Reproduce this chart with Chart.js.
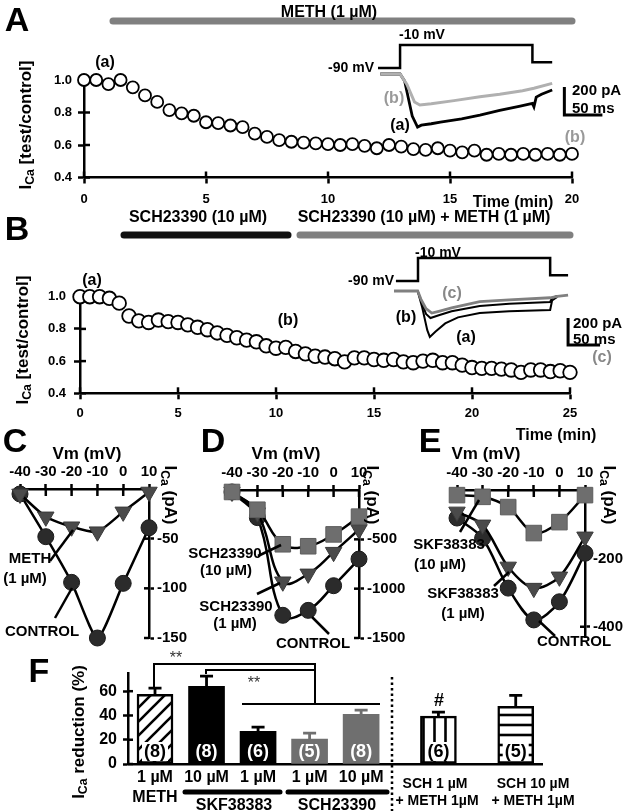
<!DOCTYPE html>
<html>
<head>
<meta charset="utf-8">
<script src="https://cdn.jsdelivr.net/npm/chart.js@4.4.0/dist/chart.umd.min.js"></script>
<style>
  html, body { margin: 0; padding: 0; background: #fff; }
  #fig { position: relative; width: 627px; height: 811px; overflow: hidden; background: #fff;
         font-family: "Liberation Sans", Arial, sans-serif; font-weight: bold; color: #000; }
  #fig canvas { position: absolute; }
  #fig svg { position: absolute; left: 0; top: 0; }
  .t { position: absolute; white-space: nowrap; line-height: 1; }
  .t sub { font-size: 0.72em; vertical-align: -0.3em; line-height: 0; }
</style>
</head>
<body>
<div id="fig"></div>
<script>
// ---- time courses (A, B), one sample every 0.5 min ----
const sampleStepMin = 0.5;
const ratioA = [1.0, 1.0, 0.975, 1.0, 0.955, 0.905, 0.865, 0.815, 0.795, 0.78,
                0.74, 0.735, 0.72, 0.71, 0.67, 0.65, 0.63, 0.62, 0.615, 0.61,
                0.605, 0.60, 0.605, 0.595, 0.58, 0.60, 0.59, 0.575, 0.57, 0.58,
                0.565, 0.555, 0.565, 0.54, 0.545, 0.54, 0.545, 0.54, 0.545, 0.54, 0.545];
const ratioB = [1.0, 1.0, 1.0, 0.99, 0.96, 0.88, 0.85, 0.84, 0.855, 0.845,
                0.84, 0.825, 0.81, 0.795, 0.775, 0.76, 0.745, 0.73, 0.72, 0.695,
                0.68, 0.685, 0.66, 0.645, 0.63, 0.625, 0.615, 0.595, 0.62, 0.62,
                0.61, 0.605, 0.61, 0.595, 0.59, 0.60, 0.605, 0.59, 0.59, 0.575,
                0.56, 0.555, 0.555, 0.55, 0.545, 0.53, 0.545, 0.545, 0.535, 0.54, 0.53];
const ratioTicks = [0.4, 0.6, 0.8, 1.0];
const timeTicksA = [0, 5, 10, 15, 20];
const timeTicksB = [0, 5, 10, 15, 20, 25];

// ---- inset current traces (ms, pA) and voltage protocol (mV) ----
const protoMv = [-90, -90, -10, -10, -70, -70];
const protoTimeA = [0, 29, 29, 203, 203, 229];
const traceTimeA_a = [3, 29, 35, 45, 52, 57, 70, 82, 110, 134, 160, 187, 203, 205, 208, 215, 229];
const traceA_a = [0, 0, -50, -300, -379, -365, -355, -343, -320, -293, -260, -229, -210, -235, -165, -145, -114];
const traceTimeA_b = [3, 29, 38, 48, 55, 70, 100, 134, 160, 190, 205, 229];
const traceA_b = [0, 0, -75, -200, -221, -212, -190, -162, -145, -120, -102, -67];

const protoTimeB = [3, 37.5, 37.5, 244, 244, 272];
const traceTimeB_a = [0, 37, 44, 52, 56, 65, 80, 100, 134, 180, 244, 247, 255];
const traceB_a = [0, 0, -120, -290, -340, -300, -240, -195, -163, -150, -141, -70, -44];
const traceTimeB_b = [0, 37, 43, 50, 57, 70, 90, 134, 180, 244, 247, 255];
const traceB_b = [0, 0, -80, -170, -200, -180, -150, -111, -95, -81, -50, -37];
const traceTimeB_c = [0, 37, 42, 50, 59, 70, 90, 134, 180, 244, 255, 272];
const traceB_c = [0, 0, -60, -130, -163, -150, -125, -79, -65, -50, -40, -30];
const scaleBarPA = 200, scaleBarMS = 50;

// ---- I-V curves (C, D, E) ----
const ivVm = [-40, -30, -20, -10, 0, 10];
const ivC_control = [-5, -48, -94, -150, -95, -39];
const ivC_meth = [-5, -28, -38, -43, -23, -3];
const ivD_control = [-20, -280, -1270, -1220, -970, -700];
const ivD_sch1 = [-20, -230, -930, -850, -630, -400];
const ivD_sch10 = [-20, -200, -550, -570, -450, -270];
const ivE_control = [-82, -141, -287, -380, -327, -185];
const ivE_skf1 = [-64, -102, -225, -287, -254, -137];
const ivE_skf10 = [-15, -20, -50, -126, -94, -15];
const ivTicksC = [-50, -100, -150];
const ivTicksD = [-500, -1000, -1500];
const ivTicksE = [-200, -400];

// ---- F bar chart ----
const fBarX = [1, 2, 3, 4, 5, 6.5, 8];
const fDoseLabels = [['1 µM', 'METH'], '10 µM', '1 µM', '1 µM', '10 µM',
                     ['SCH 1 µM', '+ METH 1µM'], ['SCH 10 µM', '+ METH 1µM']];
const fMean = [57.5, 64, 27, 20.5, 41, 39.5, 47.5];
const fErr = [5, 8.5, 3.4, 5, 3.4, 3.3, 9];
const fN = ['(8)', '(8)', '(6)', '(5)', '(8)', '(6)', '(5)'];
const fTicks = [0, 20, 40, 60];

Chart.defaults.font.family = '"Liberation Sans", Arial, sans-serif';
Chart.defaults.font.weight = 'bold';
Chart.defaults.color = '#000';

const fig = document.getElementById('fig');

function addCanvas(l, t, w, h) {
  const c = document.createElement('canvas');
  c.width = w; c.height = h;
  c.style.left = l + 'px'; c.style.top = t + 'px';
  c.style.width = w + 'px'; c.style.height = h + 'px';
  fig.appendChild(c);
  return c;
}

// part of each tick mark that crosses into the plot area
const innerTicks = {
  id: 'innerTicks',
  beforeDatasetsDraw(chart, args, opts) {
    const ctx = chart.ctx;
    ctx.save();
    ctx.strokeStyle = '#000';
    ctx.lineWidth = 2.5;
    Object.values(chart.scales).forEach(s => {
      const len = opts[s.id];
      if (!len) return;
      s.ticks.forEach(t => {
        const p = s.getPixelForValue(t.value);
        ctx.beginPath();
        if (s.position === 'bottom') { ctx.moveTo(p, s.top); ctx.lineTo(p, s.top - len); }
        else if (s.position === 'top') { ctx.moveTo(p, s.bottom); ctx.lineTo(p, s.bottom + len); }
        else if (s.position === 'left') { ctx.moveTo(s.right, p); ctx.lineTo(s.right + len, p); }
        else { ctx.moveTo(s.left, p); ctx.lineTo(s.left - len, p); }
        ctx.stroke();
      });
    });
    ctx.restore();
  }
};

function axis(o) {
  return {
    type: 'linear', position: o.pos, min: o.min, max: o.max,
    border: { display: true, color: '#000', width: 2.5 },
    grid: { display: true, drawOnChartArea: false, drawTicks: o.tick > 0, tickLength: o.tick,
            tickWidth: 2.5, tickColor: '#000' },
    ticks: { font: o.font, padding: o.pad, color: '#000', autoSkip: false, maxRotation: 0, minRotation: 0,
             callback: o.fmt || (v => String(v)) },
    afterBuildTicks: s => { s.ticks = o.values.map(v => ({ value: v })); },
    afterFit: s => {
      if (o.pos === 'top' || o.pos === 'bottom') s.height = o.size; else s.width = o.size;
    }
  };
}

const baseOpts = { responsive: false, animation: false, events: [] };

// ---------- time course charts ----------
function timeCourse(canvas, values, pad, xMax, xTicks, xSize, ySize, xPad, yPad, radius) {
  return new Chart(canvas, {
    type: 'line',
    data: { datasets: [{
      data: values.map((v, i) => ({ x: i * sampleStepMin, y: v })),
      showLine: false, pointRadius: radius, pointBorderWidth: 1.8,
      pointBackgroundColor: '#fff', pointBorderColor: '#000', clip: false
    }] },
    options: Object.assign({}, baseOpts, {
      layout: { padding: pad },
      plugins: { legend: { display: false }, tooltip: { enabled: false }, innerTicks: { x: 6, y: 6 } },
      scales: {
        x: axis({ pos: 'bottom', min: 0, max: xMax, values: xTicks, tick: 6, pad: xPad, size: xSize,
                  font: { size: 13 } }),
        y: axis({ pos: 'left', min: 0.4, max: 1.0, values: ratioTicks, tick: 6, pad: yPad, size: ySize,
                  font: { size: 13 }, fmt: v => v.toFixed(1) })
      }
    }),
    plugins: [innerTicks]
  });
}

timeCourse(addCanvas(0, 60, 627, 155), ratioA, { top: 20, left: 0, right: 55, bottom: 0 },
           20, timeTicksA, 37.5, 84, 8, 6, 6);
timeCourse(addCanvas(0, 270, 627, 160), ratioB, { top: 26.7, left: 0, right: 57, bottom: 0 },
           25, timeTicksB, 36.7, 80, 6, 8, 6.8);

// ---------- inset traces ----------
function pts(xs, ys) { return xs.map((x, i) => ({ x: x, y: ys[i] })); }
function inset(box, datasets) {
  const p = 8;
  return new Chart(addCanvas(box.left - p, box.top - p, box.w + 2 * p, box.h + 2 * p), {
    type: 'line',
    data: { datasets: datasets.map(d => Object.assign({
      pointRadius: 0, borderWidth: 2.5, tension: 0, clip: false, fill: false, yAxisID: 'yI'
    }, d)) },
    options: Object.assign({}, baseOpts, {
      layout: { padding: p },
      plugins: { legend: { display: false }, tooltip: { enabled: false } },
      scales: {
        x: { type: 'linear', display: false, min: 0, max: box.xMax },
        yV: { type: 'linear', display: false, min: box.vMin, max: box.vMax },
        yI: { type: 'linear', display: false, min: box.iMin, max: box.iMax }
      }
    })
  });
}
function scaleBar(t, top) {
  return [{ x: t, y: top }, { x: t, y: top - scaleBarPA }, { x: t + scaleBarMS, y: top - scaleBarPA }];
}

inset({ left: 378, top: 30, w: 232, h: 110, xMax: 305, vMin: -340.4, vMax: 42.2, iMin: -471, iMax: 314 }, [
  { data: pts(protoTimeA, protoMv), yAxisID: 'yV', borderColor: '#000' },
  { data: pts(traceTimeA_b, traceA_b), borderColor: '#b0b0b0', borderWidth: 3 },
  { data: pts(traceTimeA_a, traceA_a), borderColor: '#000', borderWidth: 2.8 },
  { data: scaleBar(245, -93), borderColor: '#000', borderWidth: 3 }
]);

inset({ left: 394, top: 245, w: 232, h: 110, xMax: 362.5, vMin: -347.4, vMax: 35.2, iMin: -474, iMax: 341 }, [
  { data: pts(protoTimeB, protoMv), yAxisID: 'yV', borderColor: '#000' },
  { data: pts(traceTimeB_c, traceB_c), borderColor: '#808080', borderWidth: 2.8 },
  { data: pts(traceTimeB_b, traceB_b), borderColor: '#000', borderWidth: 2 },
  { data: pts(traceTimeB_a, traceB_a), borderColor: '#000', borderWidth: 2 },
  { data: scaleBar(272, -200), borderColor: '#000', borderWidth: 3 }
]);

// ---------- I-V charts ----------
const circleStyle = { pointStyle: 'circle', pointRadius: 8, pointBackgroundColor: '#2b2b2b', pointBorderColor: '#1a1a1a' };
const triStyle = { pointStyle: 'triangle', pointRotation: 180, pointRadius: 9.5, pointBackgroundColor: '#4a4a4a', pointBorderColor: '#3a3a3a' };
const sqStyle = { pointStyle: 'rect', pointRadius: 11, pointBackgroundColor: '#6e6e6e', pointBorderColor: '#5e5e5e' };

function ivChart(box, yMin, yTicks, series, tension) {
  return new Chart(addCanvas(box.left, box.top, box.w, box.h), {
    type: 'line',
    data: { datasets: series.map(s => Object.assign({
      data: ivVm.map((v, i) => ({ x: v, y: s.values[i] })),
      borderColor: '#000', borderWidth: 2.5, pointBorderWidth: 1, tension: tension, clip: false, fill: false
    }, s.style)) },
    options: Object.assign({}, baseOpts, {
      layout: { padding: { left: box.padL, right: 0, top: 0, bottom: box.padB } },
      plugins: { legend: { display: false }, tooltip: { enabled: false }, innerTicks: { x: 7, y: 5 } },
      scales: {
        x: axis({ pos: 'top', min: -40, max: 10, values: ivVm, tick: 5, pad: 3, size: box.topH, font: { size: 15 } }),
        y: axis({ pos: 'right', min: yMin, max: 0, values: yTicks, tick: 5, pad: 3, size: box.rightW, font: { size: 15 } })
      }
    }),
    plugins: [innerTicks]
  });
}

ivChart({ left: 0, top: 440, w: 200, h: 210, padL: 20, padB: 12, topH: 49, rightW: 51 }, -150, ivTicksC, [
  { values: ivC_meth, style: triStyle },
  { values: ivC_control, style: circleStyle }
], 0.2);
ivChart({ left: 200, top: 440, w: 217, h: 210, padL: 32, padB: 10, topH: 50, rightW: 58 }, -1500, ivTicksD, [
  { values: ivD_sch10, style: sqStyle },
  { values: ivD_sch1, style: triStyle },
  { values: ivD_control, style: circleStyle }
], 0.4);
ivChart({ left: 417, top: 440, w: 210, h: 210, padL: 40, padB: 13, topH: 50, rightW: 42 }, -430, ivTicksE, [
  { values: ivE_skf10, style: sqStyle },
  { values: ivE_skf1, style: triStyle },
  { values: ivE_control, style: circleStyle }
], 0.3);

// ---------- F ----------
const canvasF = addCanvas(0, 650, 627, 161);
const ctxF = canvasF.getContext('2d');
function pattern(kind) {
  const size = kind === 'diag' ? 14 : (kind === 'vert' ? 11 : 10);
  const c = document.createElement('canvas');
  c.width = c.height = size;
  const g = c.getContext('2d');
  g.fillStyle = '#fff'; g.fillRect(0, 0, size, size);
  g.strokeStyle = '#000'; g.lineWidth = 2.6;
  g.beginPath();
  if (kind === 'diag') {
    g.moveTo(-2, size + 2); g.lineTo(size + 2, -2);
    g.moveTo(-4, 4); g.lineTo(4, -4);
    g.moveTo(size - 4, size + 4); g.lineTo(size + 4, size - 4);
  } else if (kind === 'vert') {
    g.moveTo(size / 2, 0); g.lineTo(size / 2, size);
  } else {
    g.moveTo(0, size / 2); g.lineTo(size, size / 2);
  }
  g.stroke();
  return ctxF.createPattern(c, 'repeat');
}
const fFill = [pattern('diag'), '#000', '#000', '#6f6f6f', '#6f6f6f', pattern('vert'), pattern('horiz')];
const fBorder = [2.5, 0, 0, 0, 0, 2.5, 2.5];
const fErrColor = ['#000', '#000', '#000', '#6f6f6f', '#6f6f6f', '#000', '#000'];
const fTextColor = ['#000', '#fff', '#fff', '#fff', '#fff', '#000', '#000'];
const fPatterned = [true, false, false, false, false, true, true];
const fAxisTicks = 5; // the first five groups get library tick labels; the two combined groups sit off-centre

const barDecor = {
  id: 'barDecor',
  afterDatasetsDraw(chart) {
    const ctx = chart.ctx;
    const yS = chart.scales.y;
    const bars = chart.getDatasetMeta(0).data;
    ctx.save();
    bars.forEach((b, i) => {
      const yTop = yS.getPixelForValue(fMean[i]);
      const yErr = yS.getPixelForValue(fMean[i] + fErr[i]);
      ctx.strokeStyle = fErrColor[i];
      ctx.lineWidth = 2.8;
      ctx.beginPath();
      ctx.moveTo(b.x, yTop); ctx.lineTo(b.x, yErr);
      ctx.moveTo(b.x - 6.5, yErr); ctx.lineTo(b.x + 6.5, yErr);
      ctx.stroke();
      const yLab = yS.getPixelForValue(0) - 12;
      if (fPatterned[i]) {
        ctx.fillStyle = '#fff';
        ctx.fillRect(b.x - 13, yLab - 10, 26, 19);
      }
      ctx.fillStyle = fTextColor[i];
      ctx.font = 'bold 18px "Liberation Sans", Arial, sans-serif';
      ctx.textAlign = 'center';
      ctx.textBaseline = 'middle';
      ctx.fillText(fN[i], b.x, yLab);
    });
    ctx.restore();
  }
};

new Chart(canvasF, {
  type: 'bar',
  data: { datasets: [{
    data: fBarX.map((x, i) => ({ x: x, y: fMean[i] })),
    backgroundColor: fFill, borderColor: '#000', borderWidth: fBorder,
    borderSkipped: false, barThickness: 36
  }] },
  options: Object.assign({}, baseOpts, {
    layout: { padding: { top: 23, left: 0, right: 85, bottom: 0 } },
    plugins: { legend: { display: false }, tooltip: { enabled: false }, innerTicks: { y: 5 } },
    scales: {
      x: Object.assign(axis({ pos: 'bottom', min: 0.476, max: 8.51, values: fBarX.slice(0, fAxisTicks),
                              tick: 0, pad: 4.4, size: 47, font: { size: 16, lineHeight: 1.2 },
                              fmt: (v, i) => fDoseLabels[i] }), { offset: false }),
      y: axis({ pos: 'left', min: 0, max: 75, values: fTicks, tick: 5, pad: 6, size: 128, font: { size: 16 } })
    }
  }),
  plugins: [innerTicks, barDecor]
});

// ---------- drug bars, pointer lines, brackets ----------
const NS = 'http://www.w3.org/2000/svg';
const svg = document.createElementNS(NS, 'svg');
svg.setAttribute('width', 627); svg.setAttribute('height', 811);
svg.innerHTML = `
  <g stroke-linecap="round">
    <line x1="113" y1="21" x2="572" y2="21" stroke="#808080" stroke-width="7"/>
    <line x1="124" y1="235" x2="288" y2="235" stroke="#111" stroke-width="7"/>
    <line x1="300" y1="235" x2="570" y2="235" stroke="#808080" stroke-width="7"/>
    <line x1="185" y1="792" x2="280" y2="792" stroke="#000" stroke-width="5"/>
    <line x1="288" y1="792" x2="387" y2="792" stroke="#000" stroke-width="5"/>
  </g>
  <g stroke="#000" stroke-width="2.5" fill="none">
    <line x1="50" y1="561" x2="73" y2="530"/>
    <line x1="55" y1="618" x2="72" y2="588"/>
    <line x1="258" y1="556" x2="281" y2="545"/>
    <line x1="257" y1="594" x2="280" y2="583"/>
    <line x1="329" y1="634" x2="312" y2="617"/>
    <line x1="460" y1="532" x2="479" y2="500"/>
    <line x1="494" y1="586" x2="509" y2="572"/>
    <line x1="555" y1="636" x2="539" y2="621"/>
  </g>
  <g stroke="#000" stroke-width="2" fill="none">
    <polyline points="154,688 154,664 315,664 315,704"/>
    <polyline points="206,674 206,670 315,670"/>
    <line x1="242" y1="704" x2="380" y2="704"/>
  </g>
  <line x1="392" y1="677" x2="392" y2="811" stroke="#000" stroke-width="2.5" stroke-dasharray="2.5 3"/>
`;
fig.appendChild(svg);

// ---------- text ----------
const ica = 'I<sub>Ca</sub>';
const gray = { color: '#999' };
const texts = [
  ['A', 17, 19, 34], ['METH (1 µM)', 329, 12, 16], ['(a)', 105, 62, 16],
  [ica + ' [test/control]', 25, 125, 17, { rot: -90 }], ['Time (min)', 513, 202, 16],
  ['-90 mV', 374, 67, 14, { anchor: 'right' }], ['-10 mV', 422, 34, 14],
  ['(b)', 394, 98, 16, gray], ['(a)', 400, 125, 16],
  ['200 pA', 572, 89, 15, { anchor: 'left' }], ['50 ms', 572, 107, 15, { anchor: 'left' }],
  ['(b)', 575, 137, 16, gray],

  ['B', 17, 228, 34], ['SCH23390 (10 µM)', 198, 217, 16], ['SCH23390 (10 µM) + METH (1 µM)', 424, 217, 16],
  ['(a)', 92, 280, 16], ['(b)', 288, 320, 16],
  [ica + ' [test/control]', 22, 340, 17, { rot: -90 }],
  ['-90 mV', 394, 280, 14, { anchor: 'right' }], ['-10 mV', 438, 252, 14],
  ['(c)', 452, 293, 16, { color: '#888' }], ['(b)', 406, 317, 16], ['(a)', 466, 337, 16],
  ['200 pA', 573, 322, 15, { anchor: 'left' }], ['50 ms', 573, 338, 15, { anchor: 'left' }],
  ['(c)', 602, 357, 16, { color: '#888' }], ['Time (min)', 556, 435, 16],

  ['C', 15, 440, 34], ['Vm (mV)', 87, 453, 17], [ica + ' (pA)', 170, 495, 17, { rot: 90 }],
  ['METH', 30, 557, 15], ['(1 µM)', 25, 577, 15], ['CONTROL', 42, 630, 15],

  ['D', 213, 440, 34], ['Vm (mV)', 286, 453, 17], [ica + ' (pA)', 372, 495, 17, { rot: 90 }],
  ['SCH23390', 225, 552, 15], ['(10 µM)', 226, 569, 15],
  ['SCH23390', 236, 605, 15], ['(1 µM)', 235, 622, 15], ['CONTROL', 313, 642, 15],

  ['E', 430, 440, 34], ['Vm (mV)', 486, 453, 17], [ica + ' (pA)', 609, 495, 17, { rot: 90 }],
  ['SKF38383', 449, 543, 15], ['(10 µM)', 440, 563, 15],
  ['SKF38383', 463, 592, 15], ['(1 µM)', 463, 612, 15], ['CONTROL', 574, 640, 15],

  ['F', 39, 670, 34], [ica + ' reduction (%)', 78, 732, 17, { rot: -90 }],
  ['**', 176, 658, 16, { weight: 'normal', color: '#333' }], ['**', 254, 683, 16, { weight: 'normal', color: '#333' }],
  ['#', 439, 700, 18], ['SKF38383', 234, 805, 16], ['SCH23390', 337, 805, 16],
  [fDoseLabels[5][0], 435, 783, 14], [fDoseLabels[5][1], 437, 800, 14],
  [fDoseLabels[6][0], 533, 783, 14], [fDoseLabels[6][1], 533, 800, 14]
];

texts.forEach(([html, x, y, size, o]) => {
  o = o || {};
  const d = document.createElement('div');
  d.className = 't';
  d.innerHTML = html;
  d.style.left = x + 'px';
  d.style.top = y + 'px';
  d.style.fontSize = size + 'px';
  if (o.color) d.style.color = o.color;
  if (o.weight) d.style.fontWeight = o.weight;
  const tx = o.anchor === 'left' ? '0' : (o.anchor === 'right' ? '-100%' : '-50%');
  d.style.transform = `translate(${tx}, -50%)` + (o.rot ? ` rotate(${o.rot}deg)` : '');
  fig.appendChild(d);
});
</script>
</body>
</html>
